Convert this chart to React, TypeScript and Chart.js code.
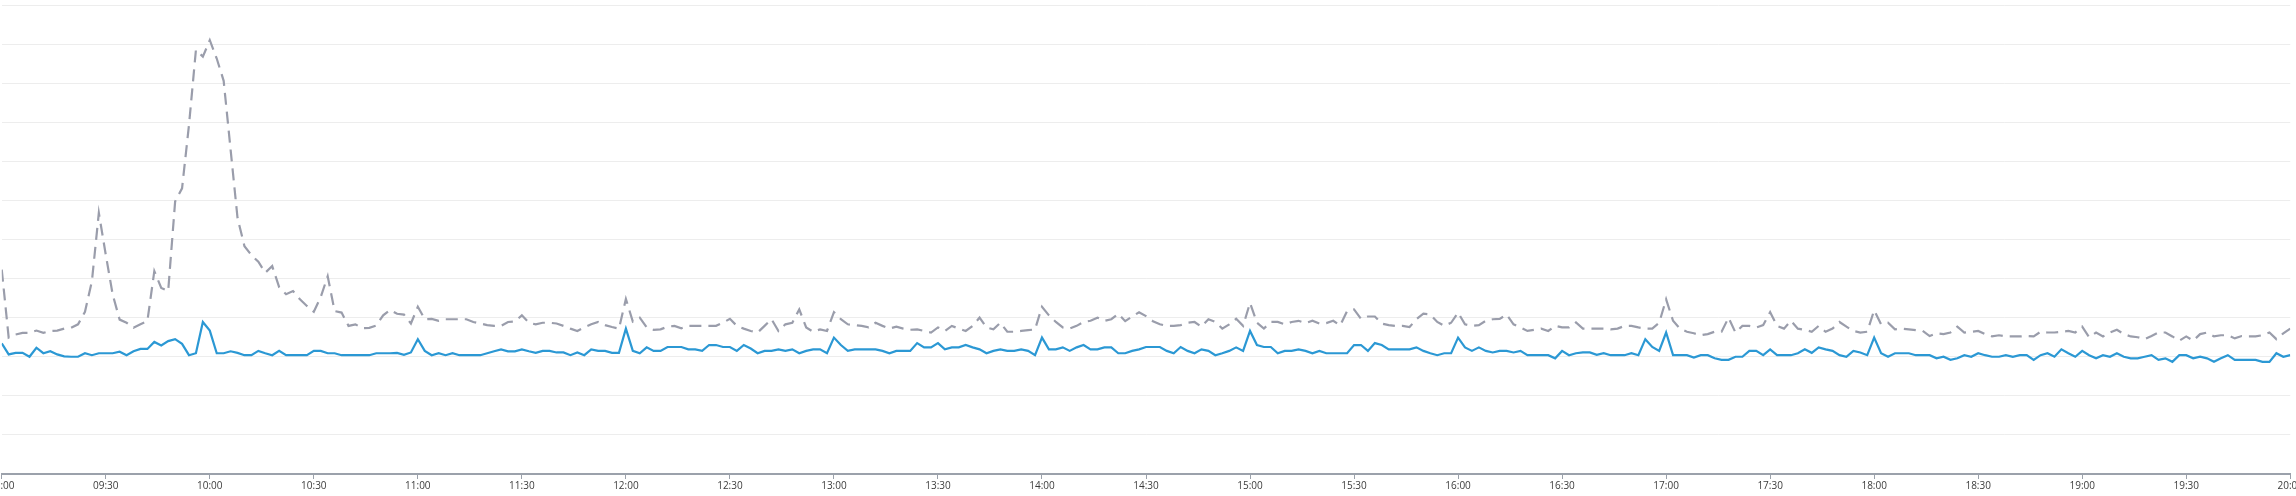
import React, { useEffect, useRef } from 'react';
import { Chart, registerables } from 'chart.js';

Chart.register(...registerables);

// x tick labels, one every 30 minutes from 09:00 to 20:00
const TICK_LABELS = [
  '09:00', '09:30', '10:00', '10:30', '11:00', '11:30', '12:00', '12:30',
  '13:00', '13:30', '14:00', '14:30', '15:00', '15:30', '16:00', '16:30',
  '17:00', '17:30', '18:00', '18:30', '19:00', '19:30', '20:00',
];
const TICK_STEP_MINUTES = 30;
const SAMPLE_STEP_MINUTES = 2; // one sample every 2 minutes starting 09:00

// solid blue series
const AVG_SERIES = [
  33.4, 30.6, 31.0, 31.0, 30.0, 32.3, 30.9, 31.4, 30.6, 30.1,
  30.0, 30.0, 30.9, 30.4, 30.9, 30.9, 30.9, 31.3, 30.4, 31.4,
  32.0, 32.0, 33.8, 32.9, 34.0, 34.5, 33.3, 30.4, 30.9, 38.9,
  36.7, 30.9, 30.9, 31.4, 31.0, 30.4, 30.4, 31.5, 30.9, 30.4,
  31.5, 30.4, 30.4, 30.4, 30.4, 31.5, 31.5, 30.9, 30.9, 30.4,
  30.4, 30.4, 30.4, 30.4, 30.9, 30.9, 30.9, 31.0, 30.5, 31.1,
  34.5, 31.5, 30.4, 30.9, 30.4, 30.9, 30.4, 30.4, 30.4, 30.4,
  30.9, 31.4, 31.9, 31.4, 31.4, 31.9, 31.4, 31.0, 31.5, 31.5,
  31.1, 31.1, 30.4, 31.1, 30.4, 31.9, 31.5, 31.5, 31.0, 31.0,
  37.2, 31.5, 30.9, 32.4, 31.5, 31.5, 32.5, 32.5, 32.5, 31.9,
  31.9, 31.5, 33.0, 33.0, 32.5, 32.5, 31.5, 33.0, 32.1, 30.9,
  31.5, 31.5, 31.9, 31.5, 31.9, 30.9, 31.5, 31.9, 31.9, 30.9,
  34.9, 33.0, 31.5, 31.9, 31.9, 31.9, 31.9, 31.5, 30.9, 31.5,
  31.5, 31.5, 33.5, 32.4, 32.4, 33.5, 31.9, 32.4, 32.4, 33.0,
  32.4, 31.9, 30.9, 31.5, 31.9, 31.5, 31.5, 31.9, 31.5, 30.4,
  34.9, 31.9, 31.9, 32.4, 31.5, 32.4, 33.0, 31.9, 31.9, 32.4,
  32.4, 30.9, 30.9, 31.5, 31.9, 32.5, 32.5, 32.5, 31.5, 30.9,
  32.5, 31.5, 30.9, 31.9, 31.5, 30.4, 30.9, 31.5, 32.4, 31.5,
  36.6, 33.0, 32.5, 32.5, 30.9, 31.5, 31.5, 31.9, 31.5, 30.9,
  31.5, 30.9, 30.9, 30.9, 30.9, 33.0, 33.0, 31.5, 33.5, 33.0,
  31.9, 31.9, 31.9, 31.9, 32.4, 31.5, 30.9, 30.4, 30.9, 30.9,
  34.9, 32.4, 31.5, 32.4, 31.5, 31.1, 31.5, 31.5, 31.1, 31.5,
  30.4, 30.4, 30.4, 30.4, 29.6, 31.5, 30.4, 30.9, 31.1, 31.1,
  30.5, 30.9, 30.4, 30.4, 30.4, 30.9, 30.4, 34.5, 32.5, 31.5,
  36.2, 30.4, 30.4, 30.4, 29.8, 30.4, 30.4, 29.6, 29.2, 29.2,
  30.0, 30.0, 31.5, 31.5, 30.4, 31.9, 30.4, 30.4, 30.4, 30.9,
  31.9, 31.0, 32.4, 31.9, 31.5, 30.4, 30.0, 31.5, 31.1, 30.4,
  34.9, 30.9, 30.0, 30.9, 30.9, 30.9, 30.4, 30.4, 30.4, 29.6,
  30.0, 29.2, 29.6, 30.4, 30.0, 30.9, 30.4, 30.0, 30.0, 30.4,
  30.0, 30.4, 30.4, 29.2, 30.4, 30.9, 30.0, 31.9, 30.9, 30.0,
  31.5, 30.4, 29.6, 30.4, 30.0, 30.9, 30.0, 29.6, 29.6, 30.0,
  30.4, 29.2, 29.6, 28.7, 30.4, 30.4, 29.6, 30.0, 29.6, 28.7,
  29.6, 30.4, 29.2, 29.2, 29.2, 29.2, 28.7, 28.7, 30.9, 30.0,
  30.4,
];

// dashed grey series
const MAX_SERIES = [
  52.3, 34.9, 35.7, 36.1, 36.1, 36.7, 36.1, 36.6, 36.7, 37.2,
  37.4, 38.3, 41.5, 49.3, 66.8, 56.1, 45.9, 39.5, 38.7, 37.4,
  38.3, 39.1, 51.9, 47.6, 46.8, 69.7, 73.1, 89.3, 108.5, 106.8,
  111.0, 106.3, 100.6, 83.0, 65.5, 58.3, 56.0, 54.3, 51.5, 53.2,
  47.8, 46.0, 46.8, 44.7, 43.0, 41.5, 45.3, 50.6, 41.7, 41.3,
  37.9, 38.3, 37.3, 37.4, 38.0, 40.6, 42.0, 41.0, 40.8, 38.5,
  42.8, 39.6, 39.7, 39.2, 39.6, 39.6, 39.6, 39.6, 38.9, 38.5,
  38.1, 37.9, 37.9, 38.9, 39.0, 40.6, 38.7, 38.3, 38.7, 38.7,
  38.5, 37.9, 37.2, 36.6, 37.5, 38.3, 38.9, 38.1, 37.6, 37.2,
  44.8, 39.0, 40.0, 37.5, 36.9, 37.0, 37.7, 37.9, 37.3, 37.9,
  37.9, 37.9, 37.9, 37.9, 38.7, 39.7, 37.9, 37.2, 36.6, 36.2,
  37.9, 39.6, 36.6, 38.3, 38.7, 42.1, 37.5, 36.4, 37.0, 36.6,
  41.4, 39.6, 38.3, 38.1, 37.9, 37.5, 38.7, 37.9, 37.2, 37.7,
  37.2, 36.9, 37.0, 36.6, 36.2, 37.5, 36.6, 37.9, 37.2, 36.6,
  37.9, 40.0, 37.5, 37.0, 38.7, 36.4, 36.4, 36.6, 36.8, 37.0,
  42.8, 40.6, 38.9, 37.5, 37.2, 37.9, 38.9, 39.2, 40.0, 39.2,
  39.6, 41.0, 39.1, 40.3, 41.4, 40.4, 39.1, 38.3, 37.9, 37.9,
  38.1, 38.7, 38.9, 37.7, 39.6, 38.9, 37.2, 38.3, 39.7, 37.9,
  43.8, 38.7, 37.2, 38.9, 38.9, 38.3, 38.9, 39.2, 38.6, 39.2,
  38.5, 38.6, 39.2, 38.0, 41.7, 42.1, 39.7, 40.3, 40.3, 38.5,
  38.1, 37.9, 37.9, 37.6, 39.6, 41.0, 40.8, 38.9, 37.9, 38.7,
  41.3, 38.3, 37.9, 38.1, 39.2, 39.6, 39.7, 40.8, 38.3, 37.5,
  36.6, 36.9, 37.2, 36.6, 37.9, 37.5, 37.5, 38.8, 37.2, 37.2,
  37.2, 37.2, 37.0, 37.2, 37.9, 37.9, 37.5, 37.2, 37.2, 38.7,
  44.7, 39.2, 37.2, 36.4, 36.0, 35.5, 35.8, 36.4, 36.4, 40.0,
  36.2, 37.9, 37.9, 37.5, 38.1, 41.4, 37.9, 37.2, 39.2, 37.2,
  36.9, 36.4, 37.9, 36.4, 37.2, 38.9, 37.7, 36.6, 36.2, 36.4,
  41.9, 38.3, 38.7, 37.0, 37.2, 37.0, 36.8, 36.6, 35.3, 36.0,
  35.8, 36.2, 37.7, 36.2, 36.4, 36.6, 35.8, 35.2, 35.5, 35.2,
  35.2, 35.2, 35.3, 35.2, 36.4, 36.2, 36.2, 36.4, 36.6, 36.2,
  37.7, 35.0, 36.2, 35.2, 36.2, 36.9, 35.8, 35.2, 35.0, 34.5,
  35.3, 36.2, 36.2, 35.2, 34.1, 35.2, 34.1, 35.8, 36.2, 35.2,
  35.5, 35.5, 34.7, 35.3, 35.2, 35.2, 35.5, 36.2, 34.5, 36.0,
  37.2,
];

const Y_MIN = 0;
const Y_MAX = 120;
const Y_STEP = 10;

export default function App() {
  const wrapRef = useRef<HTMLDivElement | null>(null);
  const canvasRef = useRef<HTMLCanvasElement | null>(null);

  useEffect(() => {
    const canvas = canvasRef.current;
    const wrap = wrapRef.current;
    if (!canvas || !wrap) return;

    const toPoints = (arr: number[]) =>
      arr.map((v, i) => ({ x: i * SAMPLE_STEP_MINUTES, y: v }));

    const axisGrey = '#9ba1ab';
    const chart = new Chart(canvas, {
      type: 'line',
      data: {
        datasets: [
          {
            label: 'Max',
            data: toPoints(MAX_SERIES),
            borderColor: '#9a9dab',
            borderWidth: 2.2,
            borderDash: [12, 7],
            pointRadius: 0,
            tension: 0,
            fill: false,
          },
          {
            label: 'Avg',
            data: toPoints(AVG_SERIES),
            borderColor: '#2b98d4',
            borderWidth: 2.2,
            pointRadius: 0,
            tension: 0,
            fill: false,
          },
        ],
      },
      options: {
        animation: false,
        responsive: true,
        maintainAspectRatio: false,
        layout: { padding: { top: 5, bottom: 0, left: 0, right: 0 } },
        plugins: { legend: { display: false }, tooltip: { enabled: false } },
        scales: {
          x: {
            type: 'linear',
            min: 0,
            max: (TICK_LABELS.length - 1) * TICK_STEP_MINUTES,
            ticks: {
              stepSize: TICK_STEP_MINUTES,
              autoSkip: false,
              maxRotation: 0,
              padding: 1,
              color: '#3c3c3c',
              font: { family: 'Open Sans', size: 10 },
              callback: (v: any) => TICK_LABELS[Math.round(Number(v) / TICK_STEP_MINUTES)] ?? '',
            },
            grid: {
              drawOnChartArea: false,
              drawTicks: true,
              tickLength: 5,
              color: axisGrey,
              lineWidth: 1,
            },
            border: { display: true, color: axisGrey, width: 2 },
          },
          y: {
            min: Y_MIN,
            max: Y_MAX,
            ticks: { display: false, stepSize: Y_STEP },
            grid: { color: '#ededed', lineWidth: 1, drawTicks: false },
            border: { display: false },
          },
        },
      },
    });

    // Place the plot area so it spans the same page region as the reference
    const target = { left: 2, right: 2291, bottom: 474 };
    for (let k = 0; k < 2; k++) {
      const ca = chart.chartArea;
      const padL = ca.left;
      const padR = chart.width - ca.right;
      wrap.style.left = Math.round(target.left - padL) + 'px';
      wrap.style.width = Math.round(padL + (target.right - target.left) + padR) + 'px';
      const pad: any = (chart.options.layout as any).padding;
      pad.bottom = Math.max(0, pad.bottom + (ca.bottom - target.bottom));
      chart.resize();
      chart.update();
    }

    return () => chart.destroy();
  }, []);

  return (
    <div
      style={{
        position: 'fixed',
        left: 0,
        top: 0,
        width: '100vw',
        height: '100vh',
        overflow: 'hidden',
        background: '#fff',
      }}
    >
      <div ref={wrapRef} style={{ position: 'absolute', top: 0, left: 0, width: 2296, height: 496 }}>
        <canvas ref={canvasRef} style={{ display: 'block' }} />
      </div>
    </div>
  );
}
